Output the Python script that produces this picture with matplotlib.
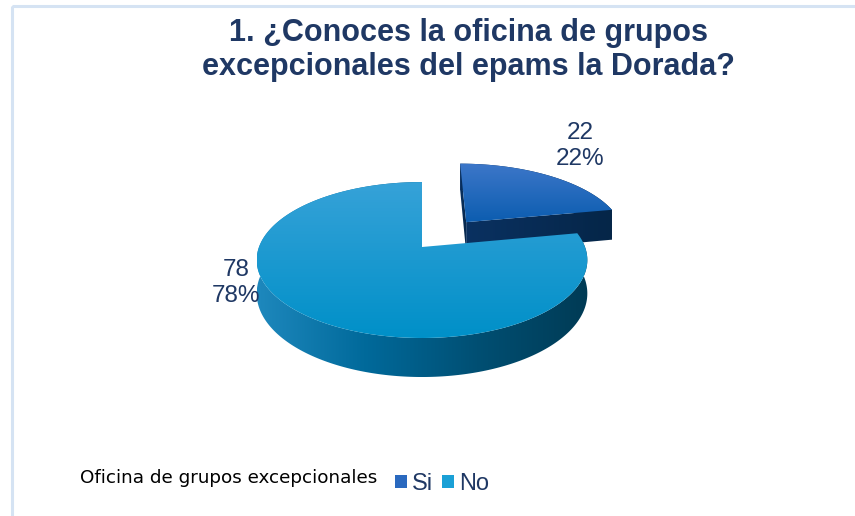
import numpy as np
import matplotlib
matplotlib.use("Agg")
import matplotlib.pyplot as plt
from matplotlib.patches import Polygon, Rectangle, Patch
from matplotlib.colors import to_rgb

# data
labels = ["Si", "No"]
values = [22, 78]
explode = [0.45, 0.0]
title = "1. ¿Conoces la oficina de grupos\nexcepcionales del epams la Dorada?"
legend_title = "Oficina de grupos excepcionales"

# pseudo 3d pie geometry (pixels)
CX, CY = 422, 247      # centre of the top face
R, B = 163, 75.8       # half width / half depth
K = 0.167              # perspective
D = 32.5               # thickness

navy = "#1f3864"
narrow = ["Liberation Sans", "DejaVu Sans"]

top_cols = [("#3d77c9", "#0c5db0"), ("#36a2d8", "#0090c8")]
side_cols = [["#0a3161", "#052648", "#041f3c"],
             ["#1e88bd", "#00699a", "#004f73", "#003b55"]]


def proj(X, Y, z):
    w = 1 + K * Y
    return CX + R * X / w, CY + (-B * Y + D * z) / w


def ramp(stops, n=256):
    stops = np.array([to_rgb(c) for c in stops])
    t = np.linspace(0, 1, n)
    pos = np.linspace(0, 1, len(stops))
    return np.stack([np.interp(t, pos, stops[:, i]) for i in range(3)], axis=-1)


def grad_poly(ax, pts, stops, vertical=True, z=1):
    pts = np.asarray(pts)
    patch = Polygon(pts, closed=True, fc="none", ec="none")
    ax.add_patch(patch)
    x0, y0 = pts.min(axis=0)
    x1, y1 = pts.max(axis=0)
    c = ramp(stops)
    img = c[:, None, :] if vertical else c[None, :, :]
    im = ax.imshow(img, extent=(x0, x1, y1, y0), origin="upper", aspect="auto",
                   interpolation="bilinear", zorder=z)
    im.set_clip_path(patch)


fig = plt.figure(figsize=(8.55, 5.16), dpi=100)
ax = fig.add_axes([0, 0, 1, 1])
ax.set_xlim(0, 855)
ax.set_ylim(516, 0)
ax.axis("off")

# outer frame
ax.add_patch(Rectangle((12, 6), 900, 600, fill=False, ec="#d5e3f3", lw=2.2, zorder=0))

total = sum(values)
angles = []
start = 90.0
for v in values:
    end = start - 360.0 * v / total
    angles.append((end, start))
    start = end

z = 2
for i in range(len(values)):
    a0, a1 = angles[i]
    mid = np.radians((a0 + a1) / 2)
    ox, oy = explode[i] * np.cos(mid), explode[i] * np.sin(mid)
    th = np.radians(np.linspace(a0, a1, 300))
    Xs, Ys = ox + np.cos(th), oy + np.sin(th)
    top = np.column_stack(proj(Xs, Ys, 0))
    bot = np.column_stack(proj(Xs, Ys, 1))
    apex_t = proj(ox, oy, 0)
    apex_b = proj(ox, oy, 1)

    # outer wall
    grad_poly(ax, np.vstack([top, bot[::-1]]), side_cols[i], vertical=False, z=z)
    # radial faces of the exploded slice
    if explode[i] > 0:
        for k in (-1, 0):
            face = [apex_t, tuple(top[k]), tuple(bot[k]), apex_b]
            grad_poly(ax, face, side_cols[i][:2], vertical=False, z=z + 0.1)
    # top face
    grad_poly(ax, np.vstack([[apex_t], top]), top_cols[i], vertical=True, z=z + 0.2)
    z += 1

# data labels
label_pos = [(580, 146), (236, 283)]
for (x, y), v in zip(label_pos, values):
    ax.text(x, y, f"{v}\n{v / total * 100:.0f}%", ha="center", va="center",
            fontsize=17.5, color=navy, family=narrow, linespacing=1.25, zorder=10)

# title
ax.text(468, 50, title, ha="center", va="center", fontsize=22, fontweight="bold",
        color=navy, family=narrow, linespacing=1.2, zorder=10)

# legend
ax.text(80, 478, legend_title, ha="left", va="center", fontsize=13.2,
        color="black", zorder=10)
handles = [Patch(fc="#2a69bf", ec="none"), Patch(fc="#1aa0d6", ec="none")]
leg = ax.legend(handles, labels, ncol=2, frameon=False, loc="center left",
                bbox_to_anchor=(395 / 855, 1 - 484 / 516),
                prop={"family": narrow, "size": 17},
                handlelength=0.5, handleheight=0.5, handletextpad=0.2,
                columnspacing=0.4, borderaxespad=0, borderpad=0)
for t in leg.get_texts():
    t.set_color(navy)

fig.savefig("out.png", dpi=100)
